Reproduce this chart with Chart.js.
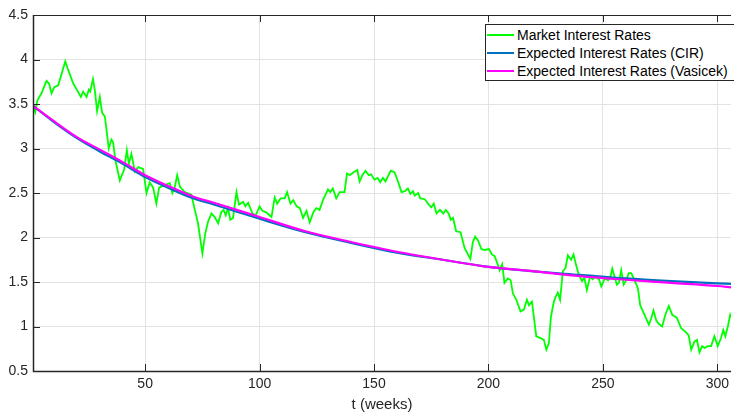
<!DOCTYPE html>
<html>
<head>
<meta charset="utf-8">
<script src="https://cdn.jsdelivr.net/npm/chart.js@4.4.1/dist/chart.umd.min.js"></script>
<style>
  body { margin: 0; background: #fff; }
  #wrap { position: relative; width: 734px; height: 414px; }
  #legend {
    position: absolute; left: 485px; top: 24px; width: 248px; height: 55px;
    border: 1px solid #262626; background: #fff;
    font-family: "Liberation Sans", Arial, sans-serif; font-size: 14px; color: #000;
  }
  .row { position: absolute; left: 0; height: 18px; line-height: 18px; white-space: nowrap; }
  .swatch { position: absolute; left: 1px; top: 8px; width: 27px; height: 2px; }
  .lbl { position: absolute; left: 31px; top: 0; }
</style>
</head>
<body>
<div id="wrap">
  <canvas id="rates"></canvas>
  <div id="legend"></div>
</div>
<script>
// market rates (week, rate)
const marketWeeks = [1, 2, 2.9, 4.7, 6.9, 8, 9.1, 10.3, 12, 13.4, 15.1, 16.4, 18.6, 20.4, 21.9, 22.9, 24.4, 25.4, 26, 27.2,
  28, 29, 30.2, 31.2, 32.4, 34.1, 35.3, 36, 37, 38.9, 40.8, 42, 42.9, 44, 45.5, 47, 49.1, 50.6, 52, 53.5,
  54.9, 56.1, 58.6, 60.8, 61.9, 62.9, 64, 65.2, 67.3, 70.2, 71.7, 73.1, 75, 76.3, 77.5, 79, 80.4, 81.9, 83.3, 84.3,
  85.2, 86.2, 87.2, 88.4, 89.9, 91, 92.8, 93.8, 95, 96.9, 98.3, 100, 101.2, 103, 105.2, 106.6, 107.7, 109.2, 111, 112,
  113.5, 114.7, 116.2, 117.6, 119, 120.5, 121.9, 123.6, 124.8, 126.2, 127.7, 129.9, 130.9, 132, 133.5, 135, 137.1, 138.2, 139.4, 140.9,
  142.7, 143.7, 144.9, 146.3, 147.7, 148.7, 150.2, 151.6, 152.7, 153.9, 155, 157.3, 159, 160.5, 162, 163.5, 164.8, 165.9, 167, 167.8,
  169.3, 170.2, 172.2, 173.6, 175, 176.1, 177.3, 178.8, 180.3, 181.3, 182.6, 183.5, 184.5, 185.9, 187.8, 189.6, 192.1, 193.2, 194.2, 195.4,
  196.9, 198.3, 200.2, 201.5, 202.7, 203.9, 204.9, 206, 207, 208.5, 209.7, 210.7, 212.2, 214, 215.5, 216.8, 217.7, 219, 220.9, 222.8,
  224.2, 225.3, 226.4, 227.3, 228.6, 229.3, 230.3, 231.3, 232.5, 233.7, 234.7, 236.1, 237.2, 238.3, 239.5, 240.9, 241.9, 243, 244.4, 245.5,
  247, 248.3, 249.3, 250.8, 252.3, 253.3, 254.1, 255.1, 256.1, 257, 258, 259.1, 260.2, 261.3, 262.4, 263.8, 265.3, 266.3, 268.2, 270.1,
  271.1, 272.1, 273.3, 274.4, 275.9, 277.4, 278.8, 280.3, 282.3, 284.2, 286.1, 287.5, 288.6, 290, 291.1, 292.2, 293.4, 294.4, 295.9, 297.3,
  298.7, 300.2, 301.6, 302.6, 303.5, 304.6, 305.6, 306];
const marketRates = [3.49, 3.41, 3.54, 3.62, 3.76, 3.73, 3.62, 3.69, 3.71, 3.83, 3.98, 3.88, 3.73, 3.65, 3.58, 3.64, 3.58, 3.66, 3.64, 3.78,
  3.66, 3.42, 3.58, 3.40, 3.36, 3.00, 3.10, 3.07, 2.87, 2.64, 2.76, 2.98, 2.83, 2.94, 2.74, 2.79, 2.77, 2.50, 2.62, 2.56,
  2.38, 2.56, 2.59, 2.61, 2.50, 2.56, 2.70, 2.57, 2.51, 2.48, 2.31, 2.16, 1.82, 2.05, 2.18, 2.27, 2.23, 2.16, 2.29, 2.31,
  2.25, 2.33, 2.20, 2.22, 2.51, 2.37, 2.40, 2.35, 2.39, 2.27, 2.25, 2.35, 2.30, 2.28, 2.23, 2.45, 2.38, 2.44, 2.44, 2.51,
  2.38, 2.42, 2.35, 2.33, 2.22, 2.30, 2.17, 2.29, 2.33, 2.31, 2.42, 2.54, 2.51, 2.55, 2.44, 2.51, 2.51, 2.72, 2.70, 2.73,
  2.76, 2.63, 2.70, 2.75, 2.70, 2.71, 2.65, 2.67, 2.62, 2.67, 2.63, 2.75, 2.73, 2.63, 2.51, 2.52, 2.55, 2.49, 2.52, 2.47,
  2.50, 2.44, 2.43, 2.38, 2.34, 2.38, 2.27, 2.31, 2.27, 2.31, 2.27, 2.20, 2.22, 2.07, 2.06, 1.88, 1.76, 1.95, 2.01, 1.97,
  1.87, 1.86, 1.87, 1.81, 1.79, 1.71, 1.63, 1.70, 1.49, 1.54, 1.52, 1.37, 1.30, 1.17, 1.19, 1.30, 1.24, 1.28, 0.89, 0.87,
  0.85, 0.74, 0.81, 1.11, 1.28, 1.33, 1.38, 1.30, 1.62, 1.66, 1.80, 1.75, 1.81, 1.69, 1.58, 1.51, 1.55, 1.41, 1.56, 1.53,
  1.56, 1.53, 1.45, 1.54, 1.52, 1.56, 1.65, 1.56, 1.47, 1.49, 1.63, 1.47, 1.52, 1.60, 1.60, 1.52, 1.43, 1.24, 1.13, 1.02,
  1.09, 1.18, 1.07, 1.03, 1.00, 1.14, 1.23, 1.13, 1.10, 0.98, 0.94, 0.90, 0.74, 0.83, 0.85, 0.71, 0.78, 0.76, 0.78, 0.78,
  0.89, 0.78, 0.87, 0.96, 0.89, 1.00, 1.13, 1.10];

// model expectations, read at a few weeks
const curveWeeks = [1, 10, 20, 30, 40, 50, 60, 70, 80, 90, 100, 120, 140, 160, 180, 200, 220, 240, 260, 280, 300, 306];
const cirRates = [3.48, 3.30, 3.12, 2.97, 2.83, 2.68, 2.56, 2.45, 2.37, 2.29, 2.21, 2.06, 1.94, 1.83, 1.75, 1.67, 1.62, 1.58, 1.54, 1.51, 1.485, 1.48];
const vasicekRates = [3.48, 3.31, 3.13, 2.99, 2.85, 2.70, 2.58, 2.47, 2.39, 2.31, 2.23, 2.07, 1.95, 1.84, 1.75, 1.67, 1.62, 1.565, 1.525, 1.49, 1.455, 1.44];

const xTicks = [50, 100, 150, 200, 250, 300];
const yTicks = [0.5, 1, 1.5, 2, 2.5, 3, 3.5, 4, 4.5];
const seriesLabels = ['Market Interest Rates', 'Expected Interest Rates (CIR)', 'Expected Interest Rates (Vasicek)'];
const seriesColors = ['#00ff00', '#0072bd', '#ff00ff'];

function toPoints(xs, ys) {
  return xs.map(function(x, i) { return { x: x, y: ys[i] }; });
}

// frame + inward tick marks like the original plot
const axesFrame = {
  id: 'axesFrame',
  afterDatasetsDraw(chart) {
    const ctx = chart.ctx, a = chart.chartArea;
    const x = chart.scales.x, y = chart.scales.y;
    ctx.save();
    ctx.strokeStyle = '#262626';
    ctx.lineWidth = 1;
    ctx.beginPath();
    xTicks.forEach(function(v) {
      const px = Math.round(x.getPixelForValue(v)) + 0.5;
      ctx.moveTo(px, a.bottom); ctx.lineTo(px, a.bottom - 7);
      ctx.moveTo(px, a.top); ctx.lineTo(px, a.top + 7);
    });
    yTicks.forEach(function(v) {
      const py = Math.round(y.getPixelForValue(v)) + 0.5;
      ctx.moveTo(a.left, py); ctx.lineTo(a.left + 7, py);
    });
    ctx.moveTo(a.left, a.top + 0.5); ctx.lineTo(a.right, a.top + 0.5);
    ctx.stroke();
    ctx.lineWidth = 1.5;
    ctx.beginPath();
    ctx.moveTo(a.left + 0.5, a.top); ctx.lineTo(a.left + 0.5, a.bottom + 0.5);
    ctx.lineTo(a.right, a.bottom + 0.5);
    ctx.stroke();
    ctx.restore();
  }
};

const tickFont = { family: '"Liberation Sans", Arial, sans-serif', size: 14 };

new Chart(document.getElementById('rates'), {
  type: 'line',
  data: {
    datasets: [
      { label: seriesLabels[0], data: toPoints(marketWeeks, marketRates), borderColor: seriesColors[0],
        borderWidth: 1.8, pointRadius: 0, tension: 0, order: 3 },
      { label: seriesLabels[1], data: toPoints(curveWeeks, cirRates), borderColor: seriesColors[1],
        borderWidth: 2.2, pointRadius: 0, cubicInterpolationMode: 'monotone', order: 2 },
      { label: seriesLabels[2], data: toPoints(curveWeeks, vasicekRates), borderColor: seriesColors[2],
        borderWidth: 2.2, pointRadius: 0, cubicInterpolationMode: 'monotone', order: 1 }
    ]
  },
  options: {
    responsive: true,
    maintainAspectRatio: false,
    animation: false,
    layout: { padding: { top: 15, right: 0, left: 0, bottom: 0 } },
    plugins: { legend: { display: false }, tooltip: { enabled: false } },
    scales: {
      x: {
        type: 'linear', min: 1, max: 306,
        afterFit: function(s) { s.height = 43; },
        afterBuildTicks: function(s) { s.ticks = xTicks.map(function(v) { return { value: v }; }); },
        grid: { color: '#e3e3e3', drawTicks: false },
        border: { display: false },
        ticks: { font: tickFont, color: '#262626', padding: 5, maxRotation: 0,
          callback: function(v) { return String(v); } },
        title: { display: true, text: 't (weeks)', color: '#262626',
          font: { family: '"Liberation Sans", Arial, sans-serif', size: 15 }, padding: { top: 0, bottom: 0 } }
      },
      y: {
        min: 0.5, max: 4.5,
        afterFit: function(s) { s.width = 33; },
        afterBuildTicks: function(s) { s.ticks = yTicks.map(function(v) { return { value: v }; }); },
        grid: { color: '#e3e3e3', drawTicks: false },
        border: { display: false },
        ticks: { font: tickFont, color: '#262626', padding: 5,
          callback: function(v) { return String(v); } }
      }
    }
  },
  plugins: [axesFrame]
});

// legend box inside the plot, top right
var legend = document.getElementById('legend');
seriesLabels.forEach(function(name, i) {
  var row = document.createElement('div');
  row.className = 'row';
  row.style.top = (1 + i * 18) + 'px';
  row.style.width = '100%';
  row.innerHTML = '<span class="swatch" style="background:' + seriesColors[i] + '"></span><span class="lbl">' + name + '</span>';
  legend.appendChild(row);
});
</script>
</body>
</html>
